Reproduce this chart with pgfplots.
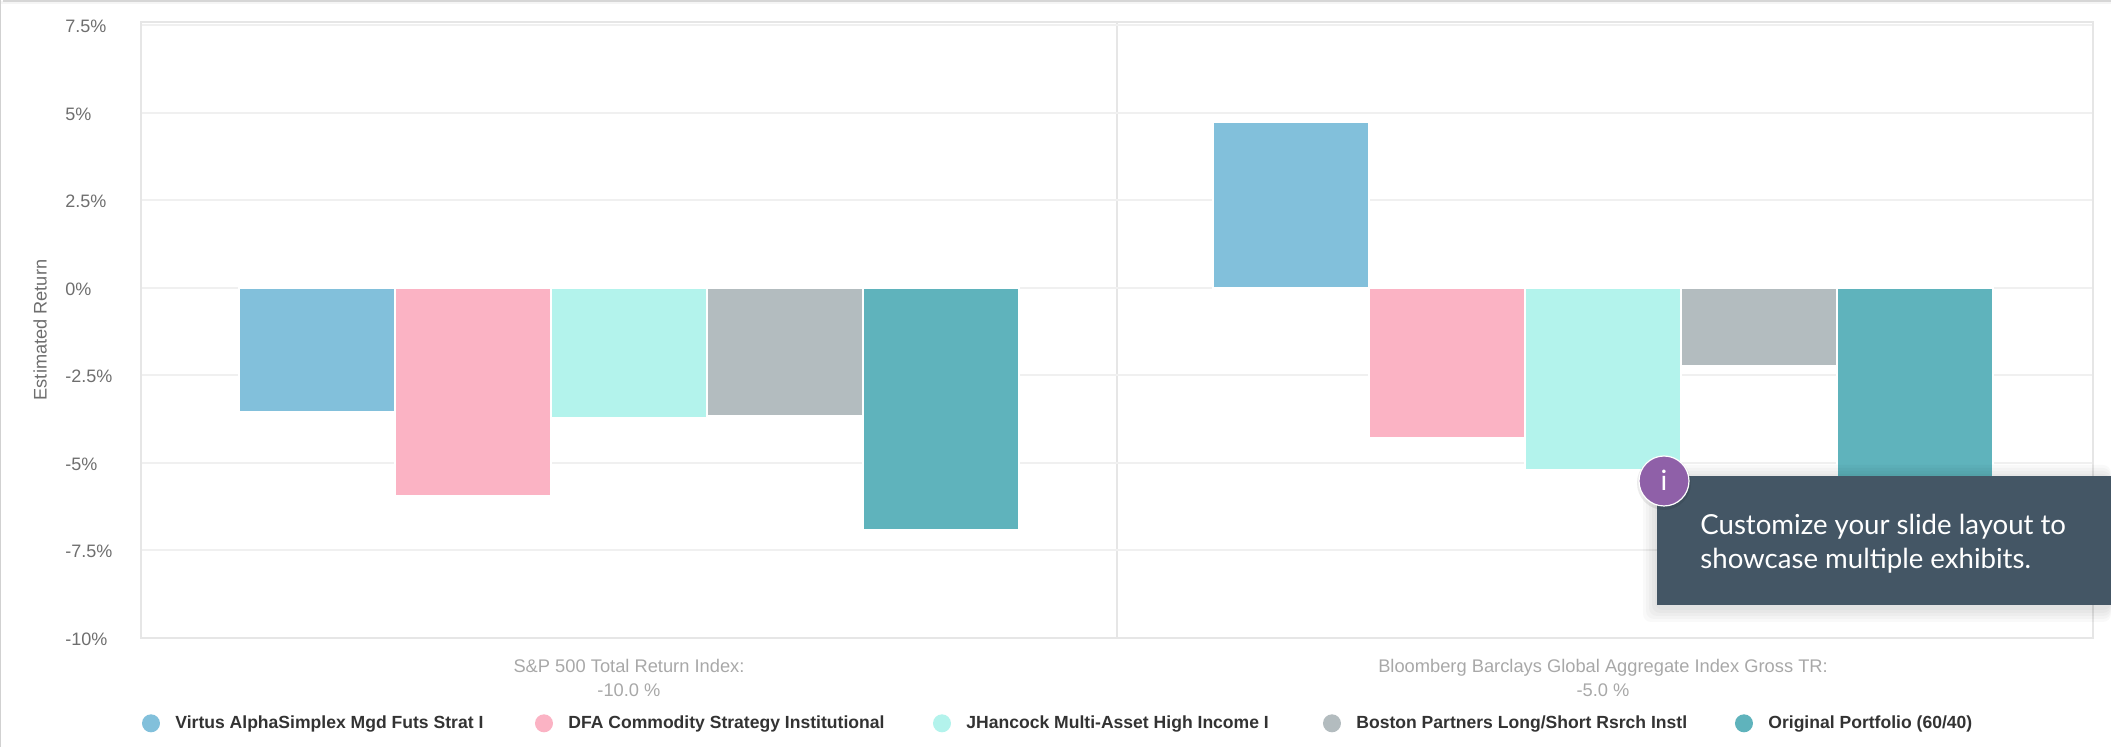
\documentclass[border=0pt]{standalone}
\usepackage{pgfplots}
\pgfplotsset{compat=1.18}
\usepackage{fontspec}
\setmainfont{Liberation Sans}
\newfontfamily\tipfont{Lato}
\definecolor{cBlue}{HTML}{82C0DB}
\definecolor{cPink}{HTML}{FBB3C4}
\definecolor{cMint}{HTML}{B3F3EC}
\definecolor{cGrey}{HTML}{B3BCBF}
\definecolor{cTeal}{HTML}{5FB3BC}
\definecolor{gridc}{HTML}{F0F0F0}
\definecolor{framec}{HTML}{E6E6E6}
\definecolor{tickc}{HTML}{6E6E6E}
\definecolor{catc}{HTML}{A8A8A8}
\definecolor{legc}{HTML}{333333}
\definecolor{tipc}{HTML}{445665}
\definecolor{dotc}{HTML}{8F60A8}
\begin{document}
\begin{tikzpicture}
\begin{axis}[
  scale only axis,
  width=976pt, height=308pt,
  xmin=-0.5, xmax=1.5, ymin=-10, ymax=7.6,
  ybar=0pt, bar width=78pt,
  xtick={0,0.998},
  xticklabels={{S\&P 500 Total Return Index:\\-10.0 \%},{Bloomberg Barclays Global Aggregate Index Gross TR:\\-5.0 \%}},
  xticklabel style={align=center, font=\fontsize{9.15}{12}\selectfont, text=catc, yshift=-7pt},
  minor xtick={0.5},
  ytick={-10,-7.5,-5,-2.5,0,2.5,5,7.5},
  yticklabels={{\raisebox{-1.5pt}{-10\%}},-7.5\%,-5\%,-2.5\%,0\%,2.5\%,5\%,{\raisebox{-1pt}{7.5\%}}},
  yticklabel style={anchor=west, xshift=-38pt, yshift=-0.5pt, inner sep=0pt, font=\fontsize{9}{10}\selectfont, text=tickc},
  major tick length=0pt, minor tick length=0pt,
  ymajorgrids, minor x grid style={framec, line width=1pt},
  xminorgrids,
  y grid style={gridc, line width=1pt},
  axis line style={framec, line width=1pt},
  ylabel={Estimated Return},
  y label style={at={(axis description cs:-0.0517,0.5)}, anchor=center, font=\fontsize{9.1}{10}\selectfont, text=tickc},
  every axis plot/.append style={draw=white, line width=1pt},
  legend columns=5,
  legend cell align=left,
  legend style={draw=none, fill=none, at={(axis description cs:0.0,-0.1385)}, anchor=west, inner sep=0pt, outer sep=0pt,
    font=\bfseries\fontsize{8.78}{10}\selectfont, text=legc, /tikz/every even column/.style={column sep=0pt},
    nodes={inner sep=0pt}},
  legend image code/.code={
    \path (0pt,0pt) (16.2pt,0pt);
    \fill[#1,draw=none] (4.5pt,0pt) circle (4.5pt);
  },
]
\addplot[fill=cBlue] coordinates {(0,-3.54) (0.998,4.74)};
\addplot[fill=cPink] coordinates {(0,-5.94) (0.998,-4.29)};
\addplot[fill=cMint] coordinates {(0,-3.71) (0.998,-5.2)};
\addplot[fill=cGrey] coordinates {(0,-3.66) (0.998,-2.23)};
\addplot[fill=cTeal] coordinates {(0,-6.91) (0.998,-6.0)};
\legend{\makebox[179.3pt][l]{Virtus AlphaSimplex Mgd Futs Strat I},
        \makebox[181.8pt][l]{DFA Commodity Strategy Institutional},
        \makebox[177.8pt][l]{JHancock Multi-Asset High Income I},
        \makebox[188.8pt][l]{Boston Partners Long/Short Rsrch Instl},
        Original Portfolio (60/40)}
\end{axis}
% page furniture and the tooltip, in page pixels
\begin{scope}[shift={(-70.5pt,319pt)},x=0.5pt,y=-0.5pt]
  \fill[black!4] (0,1) rectangle (2111,4);
  \draw[black!16,line width=1pt] (3,1.5) -- (2111,1.5);
  \draw[black!18,line width=0.7pt] (0.5,0) -- (0.5,747);
  % soft shadow round the tooltip
  \foreach \s in {14,11,8,5,2}{
    \fill[black,opacity=0.025,rounded corners=4pt] (1657-\s,476-\s+3) rectangle (2111,605+\s+3);
  }
  \fill[tipc] (1657,476) rectangle (2111,605);
  \node[anchor=base west,inner sep=0pt,text=white,font=\tipfont\fontsize{13.8}{16}\selectfont] at (1700,535) {Customize your slide layout to};
  \node[anchor=base west,inner sep=0pt,text=white,font=\tipfont\fontsize{13.8}{16}\selectfont] at (1700,569) {showcase multiple exhibits.};
  \fill[black,opacity=0.08] (1664,483) circle (13.5pt);
  \filldraw[fill=dotc,draw=white,line width=0.6pt] (1664,481) circle (12.5pt);
  \node[text=white,inner sep=0pt,font=\tipfont\fontsize{14}{16}\selectfont] at (1664,480) {i};
\end{scope}
\pgfresetboundingbox
\useasboundingbox (-70.5pt,-54.5pt) rectangle (985pt,319pt);
\end{tikzpicture}
\end{document}
